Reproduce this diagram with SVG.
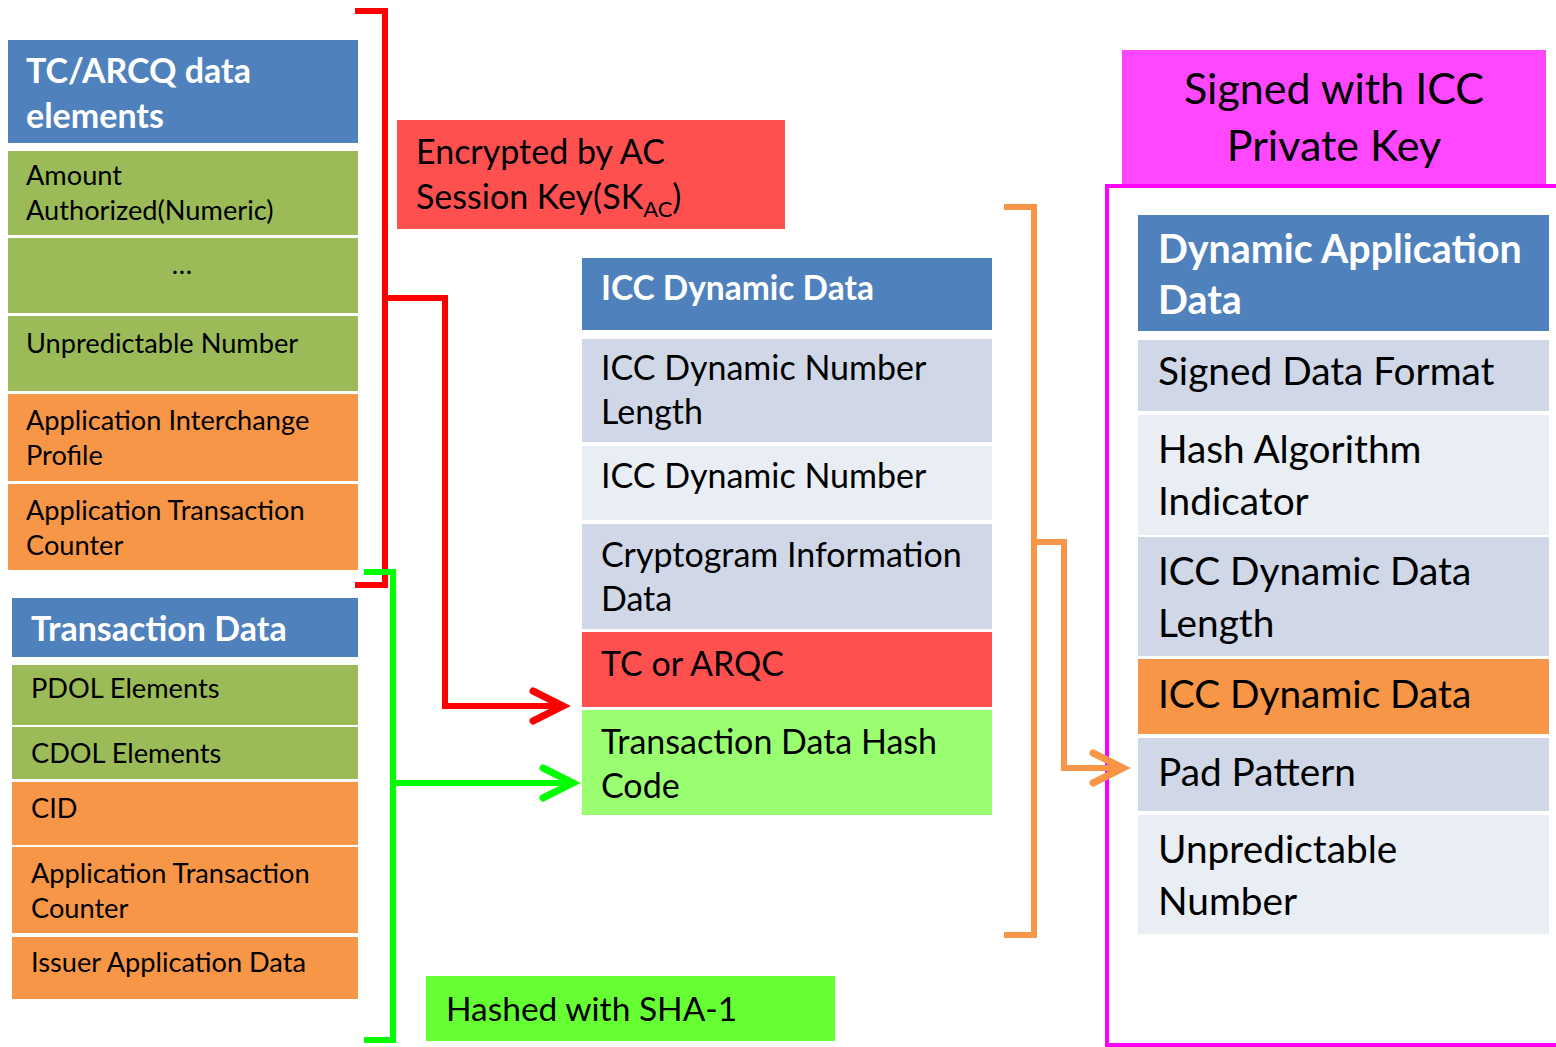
<svg xmlns="http://www.w3.org/2000/svg" width="1556" height="1047" viewBox="0 0 1556 1047">
  <style>
    text { font-family: Lato, "Open Sans", "Liberation Sans", sans-serif; fill: #000; }
    .hd { fill: #4F81BD; }
    .gr { fill: #9BBB59; }
    .or { fill: #F79646; }
    .lb { fill: #D0D8E8; }
    .lw { fill: #E9EDF4; }
    .rd { fill: #FF5050; }
    .lg { fill: #99FF70; }
    .ht { fill: #fff; font-weight: bold; }
    .s1 { font-size: 27.2px; }
    .h1 { font-size: 34px; }
    .s2 { font-size: 34px; }
    .h2 { font-size: 33.5px; }
    .s3 { font-size: 38.8px; }
    .h3 { font-size: 39.4px; }
    .wire { fill: none; stroke-width: 6; stroke-linejoin: miter; }
  </style>
  <defs>
    <marker id="arR" markerUnits="userSpaceOnUse" viewBox="-40 -24 50 48" markerWidth="50" markerHeight="48" refX="0" refY="0" orient="auto" overflow="visible">
      <path d="M-26,-15 L4,0 L-26,15" fill="none" stroke="#FF0000" stroke-width="7" stroke-linecap="round" stroke-linejoin="miter"/>
    </marker>
    <marker id="arG" markerUnits="userSpaceOnUse" viewBox="-40 -24 50 48" markerWidth="50" markerHeight="48" refX="0" refY="0" orient="auto" overflow="visible">
      <path d="M-26,-15 L4,0 L-26,15" fill="none" stroke="#00FF00" stroke-width="7" stroke-linecap="round" stroke-linejoin="miter"/>
    </marker>
    <marker id="arO" markerUnits="userSpaceOnUse" viewBox="-40 -24 50 48" markerWidth="50" markerHeight="48" refX="0" refY="0" orient="auto" overflow="visible">
      <path d="M-26,-15 L4,0 L-26,15" fill="none" stroke="#F79646" stroke-width="7" stroke-linecap="round" stroke-linejoin="miter"/>
    </marker>
  </defs>
  <rect width="1556" height="1047" fill="#fff"/>

  <!-- TC/ARCQ data elements -->
  <g id="tc-arcq">
    <rect class="hd" x="8" y="40" width="350" height="103"/>
    <text class="ht h1" x="26" y="83">TC/ARCQ data</text>
    <text class="ht h1" x="26" y="128">elements</text>
  </g>
  <g id="amount-authorized">
    <rect class="gr" x="8" y="151" width="350" height="84"/>
    <text class="s1" x="26" y="185">Amount</text>
    <text class="s1" x="26" y="220">Authorized(Numeric)</text>
  </g>
  <g id="ellipsis">
    <rect class="gr" x="8" y="238" width="350" height="75"/>
    <text class="s1" x="182" y="274" text-anchor="middle">…</text>
  </g>
  <g id="unpredictable-number-1">
    <rect class="gr" x="8" y="316" width="350" height="75"/>
    <text class="s1" x="26" y="353">Unpredictable Number</text>
  </g>
  <g id="aip-1">
    <rect class="or" x="8" y="394" width="350" height="87"/>
    <text class="s1" x="26" y="430">Application Interchange</text>
    <text class="s1" x="26" y="465">Profile</text>
  </g>
  <g id="atc-1">
    <rect class="or" x="8" y="484" width="350" height="86"/>
    <text class="s1" x="26" y="520">Application Transaction</text>
    <text class="s1" x="26" y="555">Counter</text>
  </g>

  <!-- Transaction Data -->
  <g id="transaction-data">
    <rect class="hd" x="12" y="598" width="346" height="59"/>
    <text class="ht h1" x="31" y="641">Transaction Data</text>
  </g>
  <g id="pdol">
    <rect class="gr" x="12" y="665" width="346" height="60"/>
    <text class="s1" x="31" y="698">PDOL Elements</text>
  </g>
  <g id="cdol">
    <rect class="gr" x="12" y="727" width="346" height="52"/>
    <text class="s1" x="31" y="763">CDOL Elements</text>
  </g>
  <g id="cid">
    <rect class="or" x="12" y="782" width="346" height="63"/>
    <text class="s1" x="31" y="818">CID</text>
  </g>
  <g id="atc-2">
    <rect class="or" x="12" y="847" width="346" height="86"/>
    <text class="s1" x="31" y="883">Application Transaction</text>
    <text class="s1" x="31" y="918">Counter</text>
  </g>
  <g id="iad">
    <rect class="or" x="12" y="937" width="346" height="62"/>
    <text class="s1" x="31" y="972">Issuer Application Data</text>
  </g>

  <!-- Operation labels -->
  <g id="encrypted-label">
    <rect class="rd" x="397" y="120" width="388" height="109"/>
    <text class="s2" x="416" y="164">Encrypted by AC</text>
    <text class="s2" x="416" y="209">Session Key(SK<tspan font-size="22" dy="8">AC</tspan><tspan dy="-8">)</tspan></text>
  </g>
  <g id="hashed-label">
    <rect x="426" y="976" width="409" height="65" fill="#66FF33"/>
    <text class="h2" x="446" y="1021">Hashed with SHA-1</text>
  </g>

  <!-- ICC Dynamic Data -->
  <g id="icc-dynamic-data">
    <rect class="hd" x="582" y="258" width="410" height="72"/>
    <text class="ht h2" x="601" y="300">ICC Dynamic Data</text>
  </g>
  <g id="icc-dn-length">
    <rect class="lb" x="582" y="339" width="410" height="103"/>
    <text class="s2" x="601" y="380">ICC Dynamic Number</text>
    <text class="s2" x="601" y="424">Length</text>
  </g>
  <g id="icc-dn">
    <rect class="lw" x="582" y="446" width="410" height="74"/>
    <text class="s2" x="601" y="488">ICC Dynamic Number</text>
  </g>
  <g id="cid-data">
    <rect class="lb" x="582" y="524" width="410" height="105"/>
    <text class="s2" x="601" y="567">Cryptogram Information</text>
    <text class="s2" x="601" y="611">Data</text>
  </g>
  <g id="tc-or-arqc">
    <rect class="rd" x="582" y="632" width="410" height="75"/>
    <text class="s2" x="601" y="676">TC or ARQC</text>
  </g>
  <g id="tx-hash">
    <rect class="lg" x="582" y="710" width="410" height="105"/>
    <text class="s2" x="601" y="754">Transaction Data Hash</text>
    <text class="s2" x="601" y="798">Code</text>
  </g>

  <!-- Signed block -->
  <g id="signed-label">
    <rect x="1122" y="50" width="424" height="136" fill="#FF47FF"/>
    <text x="1334" y="104" font-size="43" text-anchor="middle">Signed with ICC</text>
    <text x="1334" y="161" font-size="43" text-anchor="middle">Private Key</text>
  </g>
  <g id="signed-frame">
    <rect x="1107" y="186" width="460" height="859" fill="none" stroke="#FF00FF" stroke-width="4"/>
  </g>

  <!-- Dynamic Application Data -->
  <g id="dad">
    <rect class="hd" x="1138" y="215" width="411" height="116"/>
    <text class="ht h3" x="1158" y="263">Dynamic Application</text>
    <text class="ht h3" x="1158" y="314">Data</text>
  </g>
  <g id="sdf">
    <rect class="lb" x="1138" y="340" width="411" height="71"/>
    <text class="s3" x="1158" y="385">Signed Data Format</text>
  </g>
  <g id="hai">
    <rect class="lw" x="1138" y="415" width="411" height="120"/>
    <text class="s3" x="1158" y="463">Hash Algorithm</text>
    <text class="s3" x="1158" y="515">Indicator</text>
  </g>
  <g id="iddl">
    <rect class="lb" x="1138" y="537" width="411" height="119"/>
    <text class="s3" x="1158" y="585">ICC Dynamic Data</text>
    <text class="s3" x="1158" y="637">Length</text>
  </g>
  <g id="idd">
    <rect class="or" x="1138" y="659" width="411" height="75"/>
    <text class="s3" x="1158" y="708">ICC Dynamic Data</text>
  </g>
  <g id="pad">
    <rect class="lb" x="1138" y="738" width="411" height="73"/>
    <text class="s3" x="1158" y="786">Pad Pattern</text>
  </g>
  <g id="un-2">
    <rect class="lw" x="1138" y="815" width="411" height="119"/>
    <text class="s3" x="1158" y="863">Unpredictable</text>
    <text class="s3" x="1158" y="915">Number</text>
  </g>

  <!-- Brackets and arrows -->
  <g id="connectors">
    <path class="wire" stroke="#FF0000" d="M355,11 H385 V585 H355"/>
    <path class="wire" stroke="#FF0000" d="M385,298 H445 V706 H559" marker-end="url(#arR)"/>
    <path class="wire" stroke="#00FF00" d="M364,572 H393 V1040 H364"/>
    <path class="wire" stroke="#00FF00" d="M393,783 H569" marker-end="url(#arG)"/>
    <path class="wire" stroke="#F79646" d="M1004,207 H1034 V935 H1004"/>
    <path class="wire" stroke="#F79646" d="M1034,542 H1064 V768 H1119" marker-end="url(#arO)"/>
  </g>
</svg>
